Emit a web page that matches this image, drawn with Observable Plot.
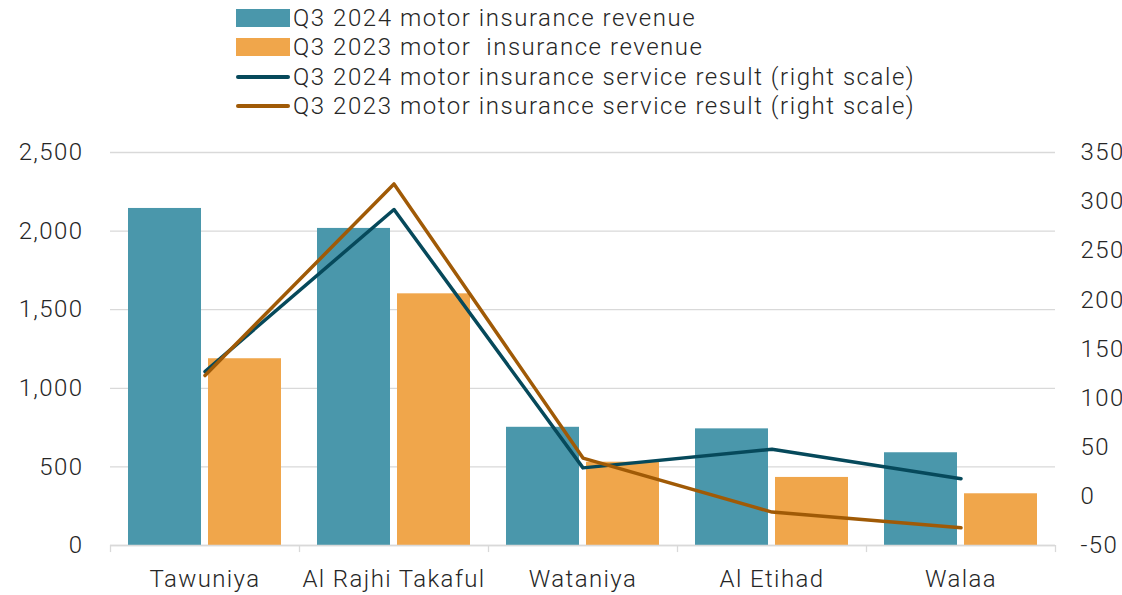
<!DOCTYPE html>
<html><head><meta charset="utf-8">
<script src="https://cdn.jsdelivr.net/npm/d3@7"></script>
<script src="https://cdn.jsdelivr.net/npm/@observablehq/plot@0.6"></script>
<style>
body{margin:0;background:#fff;font-family:Roboto,sans-serif;}
#wrap{position:relative;width:1122px;height:595px;overflow:hidden;}
#legend{position:absolute;left:236px;top:3px;z-index:2;}
.item{display:flex;align-items:center;height:29.5px;font-size:24px;font-weight:300;letter-spacing:1.55px;color:#262626;white-space:pre;}
.sw{width:54px;margin-right:3px;}
#chart{position:absolute;left:0;top:0;}
</style></head><body><div id="wrap"><div id="legend"></div><div id="chart"></div></div>
<script>
const companies = ["Tawuniya", "Al Rajhi Takaful", "Wataniya", "Al Etihad", "Walaa"];
const revenue2024 = [2144, 2017, 752, 742, 590];
const revenue2023 = [1188, 1601, 530, 433, 329];
const result2024 = [127, 292, 29, 48, 18];
const result2023 = [123, 318, 39, -16, -32];
const leftTicks = [0, 500, 1000, 1500, 2000, 2500];
const rightTicks = [-50, 0, 50, 100, 150, 200, 250, 300, 350];
const legendLabels = [
  "Q3 2024 motor insurance revenue",
  "Q3 2023 motor  insurance revenue",
  "Q3 2024 motor insurance service result (right scale)",
  "Q3 2023 motor insurance service result (right scale)"
];
const colors = {bar24: "#4A97AB", bar23: "#F0A64B", line24: "#06495B", line23: "#A05A06"};

// right scale [-50, 350] mapped onto left scale [0, 2500]
const toLeft = v => (v + 50) * 2500 / 400;
const fromLeft = v => v * 400 / 2500 - 50;

const rows = companies.map((c, i) => ({company: c, r24: revenue2024[i], r23: revenue2023[i], s24: toLeft(result2024[i]), s23: toLeft(result2023[i])}));

const W = 1122, H = 595, ML = 110, MR = 67;
const bw = (W - ML - MR) / companies.length;

const chart = Plot.plot({
  width: W, height: H,
  marginTop: 152, marginBottom: 50, marginLeft: ML, marginRight: MR,
  style: {fontFamily: "Roboto, sans-serif", fontSize: "24px", fontWeight: 300, letterSpacing: "1.4px", color: "#262626", background: "transparent", overflow: "hidden"},
  x: {type: "band", domain: companies, padding: 0, axis: null},
  y: {domain: [0, 2500], axis: null},
  marks: [
    Plot.gridY(leftTicks, {stroke: "#d9d9d9", strokeOpacity: 1, strokeWidth: 1.3}),
    Plot.axisY(leftTicks, {anchor: "left", tickSize: 0, tickPadding: 27, tickFormat: d3.format(","), fontSize: 24}),
    Plot.axisY(rightTicks.map(toLeft), {anchor: "right", tickSize: 0, tickPadding: 25, textAnchor: "start", tickFormat: d => String(Math.round(fromLeft(d))), fontSize: 24}),
    Plot.barY(rows, {x: "company", y: "r24", fill: colors.bar24, insetLeft: 18, insetRight: bw - 18 - 73}),
    Plot.barY(rows, {x: "company", y: "r23", fill: colors.bar23, insetLeft: bw - 18 - 73, insetRight: 18}),
    Plot.ruleY([0], {stroke: "#d9d9d9", strokeWidth: 1.3}),
    Plot.ruleX(companies, {x: d => d, dx: -bw / 2, y1: 0, y2: -45, stroke: "#d9d9d9", strokeWidth: 1.3}),
    Plot.ruleX([companies[companies.length - 1]], {x: d => d, dx: bw / 2, y1: 0, y2: -45, stroke: "#d9d9d9", strokeWidth: 1.3}),
    Plot.axisX({tickSize: 0, tickPadding: 24, fontSize: 24, label: null}),
    Plot.line(rows, {x: "company", y: "s24", stroke: colors.line24, strokeWidth: 3.5, strokeLinecap: "round"}),
    Plot.line(rows, {x: "company", y: "s23", stroke: colors.line23, strokeWidth: 3.5, strokeLinecap: "round"})
  ]
});
document.getElementById("chart").appendChild(chart);

const leg = document.getElementById("legend");
legendLabels.forEach((t, i) => {
  const it = document.createElement("div");
  it.className = "item";
  const sw = document.createElement("div");
  sw.className = "sw";
  const col = [colors.bar24, colors.bar23, colors.line24, colors.line23][i];
  if (i < 2) { sw.style.height = "18px"; } else { sw.style.height = "4px"; sw.style.borderRadius = "2px"; }
  sw.style.background = col;
  const tx = document.createElement("span");
  tx.textContent = t;
  it.appendChild(sw); it.appendChild(tx);
  leg.appendChild(it);
});
</script></body></html>
